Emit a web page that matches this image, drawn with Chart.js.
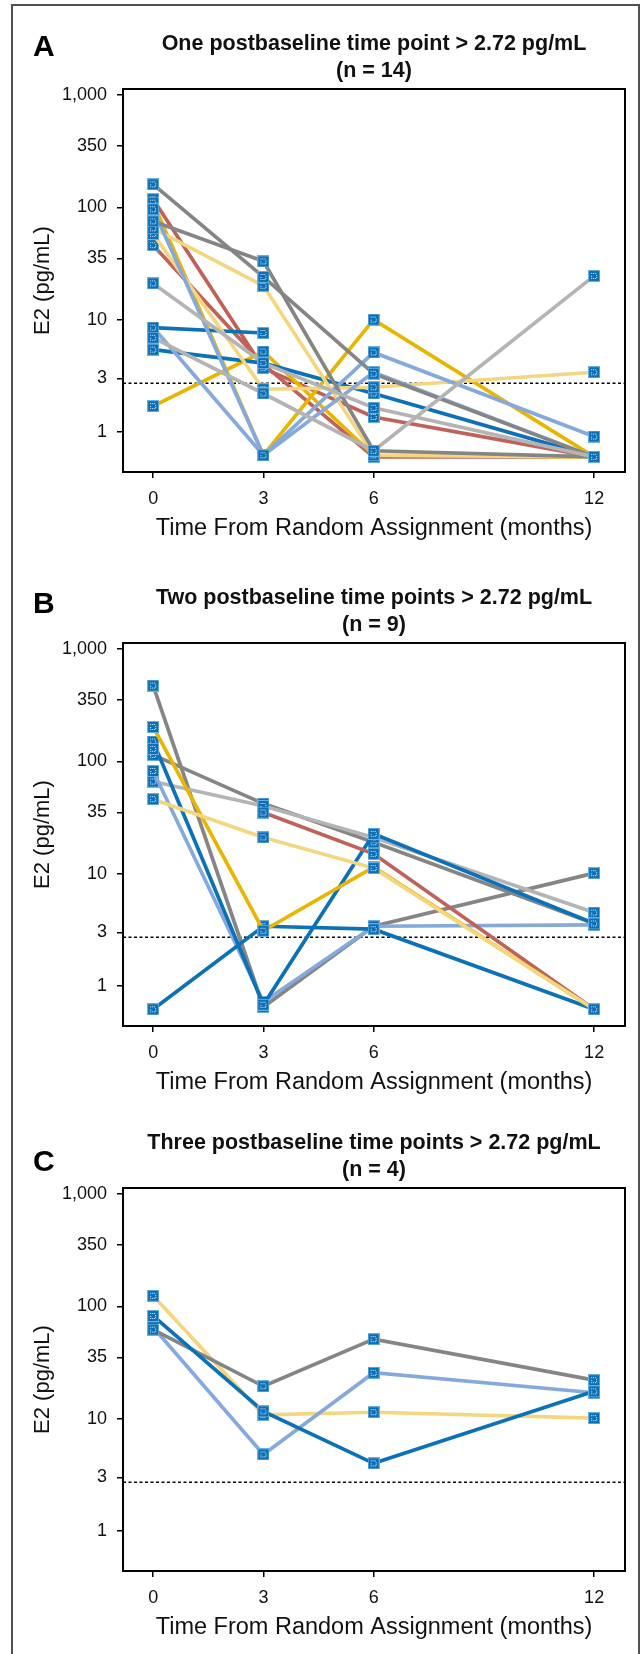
<!DOCTYPE html>
<html lang="en">
  <head>
    <meta charset="UTF-8" />
    <title>E2 over time</title>
    <script src="https://cdn.jsdelivr.net/npm/chart.js@4.4.1/dist/chart.umd.min.js"></script>
    <style>
      html, body { margin: 0; padding: 0; background: #fff; overflow: hidden; }
      #page { position: relative; width: 641px; height: 1654px; }
      #frame { position: absolute; left: 11px; top: 4px; width: 629px; height: 1700px; border: 2px solid #505050; box-sizing: border-box; }
      .panel { position: absolute; left: 0; }
      .letter { position: absolute; left: 33px; font: bold 30px 'Liberation Sans', Arial, sans-serif; line-height: 30px; color: #000; }
    </style>
  </head>
  <body>
    <div id="page">
      <div id="frame"></div>
      <canvas id="chartA" class="panel" width="641" height="545" style="top:0px"></canvas>
      <canvas id="chartB" class="panel" width="641" height="545" style="top:554px"></canvas>
      <canvas id="chartC" class="panel" width="641" height="545" style="top:1099px"></canvas>
      <div class="letter" style="top:31px">A</div>
      <div class="letter" style="top:588px">B</div>
      <div class="letter" style="top:1146px">C</div>
    </div>

    <script>
      //data
      const months = [0, 3, 6, 12];
      const xTicks = [0, 3, 6, 12];
      const yTicks = [1, 3, 10, 35, 100, 350, 1000];
      const yTickLabels = ['1', '3', '10', '35', '100', '350', '1,000'];
      const threshold = 2.72;

      // panel A: one postbaseline time point > 2.72
      const aGray1 = [160, 24, 3.3, 0.6];
      const aGray2 = [75, 33, 0.68, 0.6];
      const aLightGray1 = [21, 4.1, 1.64, 0.6];
      const aLightGray2 = [6.9, 2.2, 0.68, 24.5];
      const aLightBlue1 = [96, 0.62, 5.1, 0.91];
      const aLightBlue2 = [8.5, 0.62, 3.4, 0.6];
      const aGold1 = [110, 0.62, 10, 0.6];
      const aGold2 = [1.7, 5.2, 0.62, 0.6];
      const aLightYellow1 = [65, 20, 0.62, 0.6];
      const aLightYellow2 = [58, 2.4, 2.5, 3.4];
      const aRed1 = [118, 3.7, 1.36, 0.6];
      const aRed2 = [46, 4.0, 0.6, 0.6];
      const aBlue1 = [8.5, 7.6, null, null];
      const aBlue2 = [5.4, 4.1, 2.2, 0.6];

      // panel B: two postbaseline time points > 2.72
      const bGray1 = [472, 0.65, 3.4, 10.1];
      const bGold = [202, 3.1, 11.4, 0.62];
      const bBlue1 = [150, 0.68, 22.6, 3.6];
      const bRed = [129, 35, 15, 0.62];
      const bGray2 = [114, 42, 19, 3.6];
      const bLightBlue = [82, 0.72, 3.4, 3.5];
      const bLightGray = [66, 40, 21, 4.5];
      const bLightYellow = [46, 21, 11.2, 0.62];
      const bBlue2 = [0.62, 3.4, 3.2, 0.62];

      // panel C: three postbaseline time points > 2.72
      const cLightYellow = [124, 10.8, 11.4, 10.1];
      const cBlue = [82, 11.6, 4.0, 17.5];
      const cGray = [62, 19.4, 51, 22];
      const cLightBlue = [65, 4.8, 25.6, 17];

      //style
      const COLORS = {
        blue: '#0b71b8',
        lightBlue: '#85a9dd',
        gray: '#858585',
        lightGray: '#b4b4b4',
        gold: '#e9b500',
        lightYellow: '#f4d67f',
        red: '#c0625a'
      };
      const FONT = "'Liberation Sans', Arial, sans-serif";
      const xMin = -0.82, xMax = 12.84;
      const yMin = 0.44, yMax = 1130;

      // square blue marker with a dotted white inner outline
      const marker = document.createElement('canvas');
      marker.width = 12;
      marker.height = 12;
      (function () {
        const m = marker.getContext('2d');
        m.fillStyle = '#6aaee0';
        m.fillRect(0, 0, 12, 12);
        m.fillStyle = '#0a6fb6';
        m.fillRect(1, 1, 10, 10);
        m.fillStyle = 'rgba(255,255,255,0.9)';
        [[3, 3], [5, 3], [7, 3], [8, 5], [3, 6], [8, 7], [3, 8], [5, 8], [7, 8]].forEach(([px, py]) => m.fillRect(px, py, 1, 1));
      })();

      const plotBox = {
        id: 'plotBox',
        afterDraw(chart) {
          const { ctx, chartArea: a } = chart;
          ctx.save();
          ctx.strokeStyle = '#000';
          ctx.lineWidth = 2;
          ctx.strokeRect(a.left, a.top, a.right - a.left, a.bottom - a.top);
          ctx.restore();
        }
      };

      const toPoints = (vals) => months.map((m, i) => ({ x: m, y: vals[i] }));

      const makeDataset = (s) => {
        const ds = {
          data: toPoints(s.values),
          borderColor: s.color,
          backgroundColor: s.color,
          borderWidth: 3.7,
          tension: 0,
          pointStyle: marker,
          pointRadius: 5,
          spanGaps: false,
          order: 1
        };
        if (s.noFirstSegment) {
          ds.segment = { borderColor: (c) => (c.p0DataIndex === 0 ? 'rgba(0,0,0,0)' : undefined) };
        }
        return ds;
      };

      const thresholdDataset = {
        data: [{ x: xMin, y: threshold }, { x: xMax, y: threshold }],
        borderColor: '#000',
        borderWidth: 1.5,
        borderDash: [3, 2.5],
        pointRadius: 0,
        order: 10
      };

      const makeChart = (id, titleLines, series) => {
        const config = {
          type: 'line',
          data: { datasets: [thresholdDataset].concat(series.map(makeDataset)) },
          options: {
            responsive: false,
            animation: false,
            layout: { padding: { top: 30.5, right: 16, left: 0, bottom: 0 } },
            plugins: {
              legend: { display: false },
              tooltip: { enabled: false },
              title: {
                display: true,
                fullSize: false,
                text: titleLines,
                color: '#111',
                font: { family: FONT, size: 21.5, weight: 'bold', lineHeight: 27 / 21.5 },
                padding: { top: 0, bottom: 4.5 }
              }
            },
            scales: {
              x: {
                type: 'linear',
                min: xMin,
                max: xMax,
                afterBuildTicks: (s) => { s.ticks = xTicks.map((v) => ({ value: v })); },
                afterFit: (s) => { s.height = 73; },
                grid: { display: true, drawOnChartArea: false, drawTicks: true, tickLength: 6, color: '#000', lineWidth: 1.5 },
                border: { display: true, color: '#000', width: 2 },
                ticks: { padding: 10, color: '#111', font: { family: FONT, size: 18 }, maxRotation: 0, callback: (v) => String(v) },
                title: {
                  display: true,
                  text: 'Time From Random Assignment (months)',
                  color: '#111',
                  font: { family: FONT, size: 23.5, lineHeight: 1.2 },
                  padding: { top: 0, bottom: 2 }
                }
              },
              y: {
                type: 'logarithmic',
                min: yMin,
                max: yMax,
                afterBuildTicks: (s) => { s.ticks = yTicks.map((v) => ({ value: v })); },
                afterFit: (s) => { s.width = 123; },
                grid: { display: true, drawOnChartArea: false, drawTicks: true, tickLength: 6, color: '#000', lineWidth: 1.5 },
                border: { display: true, color: '#000', width: 2 },
                ticks: { padding: 10, color: '#111', font: { family: FONT, size: 18 }, callback: (v, i) => yTickLabels[i] },
                title: {
                  display: true,
                  text: 'E2 (pg/mL)',
                  color: '#111',
                  font: { family: FONT, size: 22, lineHeight: 1.2 },
                  padding: { top: 30, bottom: 0 }
                }
              }
            }
          },
          plugins: [plotBox]
        };
        return new Chart(document.getElementById(id), config);
      };

      //init
      makeChart('chartA', ['One postbaseline time point > 2.72 pg/mL', '(n = 14)'], [
        { values: aLightGray2, color: COLORS.lightGray },
        { values: aLightGray1, color: COLORS.lightGray },
        { values: aGray1, color: COLORS.gray },
        { values: aGray2, color: COLORS.gray },
        { values: aLightBlue1, color: COLORS.lightBlue },
        { values: aLightBlue2, color: COLORS.lightBlue },
        { values: aLightYellow1, color: COLORS.lightYellow },
        { values: aLightYellow2, color: COLORS.lightYellow },
        { values: aBlue1, color: COLORS.blue },
        { values: aBlue2, color: COLORS.blue },
        { values: aGold1, color: COLORS.gold },
        { values: aGold2, color: COLORS.gold },
        { values: aRed1, color: COLORS.red },
        { values: aRed2, color: COLORS.red }
      ]);

      makeChart('chartB', ['Two postbaseline time points > 2.72 pg/mL', '(n = 9)'], [
        { values: bLightYellow, color: COLORS.lightYellow },
        { values: bGold, color: COLORS.gold },
        { values: bRed, color: COLORS.red, noFirstSegment: true },
        { values: bBlue1, color: COLORS.blue },
        { values: bBlue2, color: COLORS.blue },
        { values: bLightBlue, color: COLORS.lightBlue },
        { values: bLightGray, color: COLORS.lightGray },
        { values: bGray2, color: COLORS.gray },
        { values: bGray1, color: COLORS.gray }
      ]);

      makeChart('chartC', ['Three postbaseline time points > 2.72 pg/mL', '(n = 4)'], [
        { values: cBlue, color: COLORS.blue },
        { values: cGray, color: COLORS.gray },
        { values: cLightBlue, color: COLORS.lightBlue },
        { values: cLightYellow, color: COLORS.lightYellow }
      ]);
    </script>
  </body>
</html>
